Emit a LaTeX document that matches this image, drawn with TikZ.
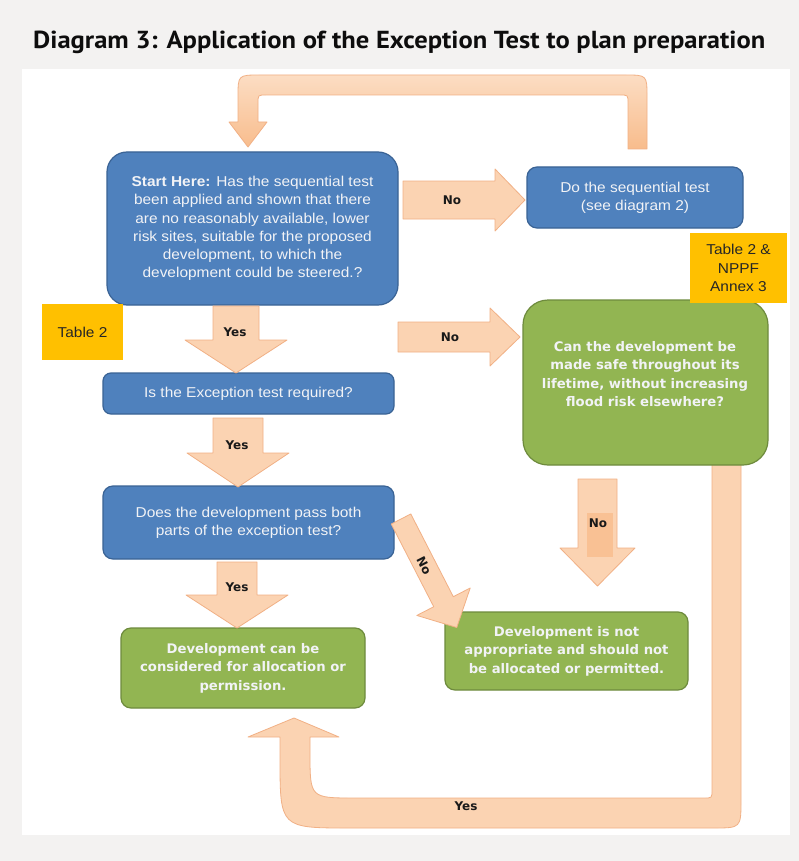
\documentclass[tikz,border=0pt]{standalone}
\usepackage{fontspec}
\setmainfont{Liberation Sans}
\newfontfamily\boxfont[FakeStretch=1.08]{Liberation Sans}
\newfontfamily\greenfont{DejaVu Sans}
\newfontfamily\titlefont{PT Sans}
\definecolor{bggray}{HTML}{F3F2F1}
\definecolor{bluefill}{HTML}{4F81BD}
\definecolor{blueline}{HTML}{3A6395}
\definecolor{greenfill}{HTML}{92B552}
\definecolor{greenline}{HTML}{6E8B3D}
\definecolor{yellowfill}{HTML}{FFC000}
\definecolor{peach}{HTML}{FBD3B2}
\definecolor{peachline}{HTML}{F1B085}
\definecolor{peachdark}{HTML}{F8BC8C}
\definecolor{peachlight}{HTML}{FCDDC3}
\definecolor{boxtext}{HTML}{F2F3F6}
\tikzset{
  bluebox/.style={draw=blueline, line width=1.2pt, fill=bluefill, text=boxtext, inner sep=0pt,
    align=center, font={\boxfont\fontsize{14.3}{18.3}\selectfont}},
  greenbox/.style={draw=greenline, line width=1.2pt, fill=greenfill, text=boxtext, inner sep=0pt,
    align=center, font={\greenfont\bfseries\fontsize{13.2}{18.5}\selectfont}},
  yellowbox/.style={fill=yellowfill, text=black!85, inner sep=0pt, align=center,
    font={\boxfont\fontsize{14.3}{18.5}\selectfont}},
  blk/.style={fill=peach, draw=peachline, line width=0.8pt, line join=round},
  blkgrad/.style={top color=peachlight, bottom color=peachdark, draw=peachline, line width=0.8pt, line join=round},
  lbl/.style={font={\greenfont\bfseries\fontsize{12}{14}\selectfont}, text=black!90, inner sep=1pt},
}
\begin{document}
\begin{tikzpicture}[x=1pt,y=-1pt]
\useasboundingbox (0,0) rectangle (799,861);
\fill[bggray] (0,0) rectangle (799,861);
\fill[white] (22,69) rectangle (790,835);

\node[anchor=base west, inner sep=0pt, text=black!95] (title) at (33,49)
  {\resizebox{732pt}{17.5pt}{\titlefont\bfseries Diagram 3: Application of the Exception Test to plan preparation}};

% loops
\path[blkgrad] (628,149) -- (628,103) .. controls (628,95) .. (620,95) -- (266,95)
  .. controls (258,95) .. (258,103) -- (258,122) -- (267,122) -- (248,147) -- (229,122)
  -- (238,122) -- (238,97) .. controls (238,75) .. (260,75) -- (625,75)
  .. controls (647,75) .. (647,97) -- (647,149) -- cycle;
\path[blk] (712,455) -- (712,790) .. controls (712,798) .. (704,798) -- (355,798)
  .. controls (310,798) .. (310,753) -- (310,737) -- (339,737) -- (294,718) -- (248,737)
  -- (280,737) -- (280,758) .. controls (280,828) .. (350,828) -- (713,828)
  .. controls (741,828) .. (741,800) -- (741,455) -- cycle;

% boxes
\node[bluebox, minimum width=291pt, minimum height=153pt, rounded corners=20pt] (start) at (252.5,228.5)
  {\textbf{Start Here:} Has the sequential test\\been applied and shown that there\\are no reasonably available, lower\\risk sites, suitable for the proposed\\development, to which the\\development could be steered.?};
\node[bluebox, minimum width=216pt, minimum height=61pt, rounded corners=10pt] (seq) at (635,197.5)
  {Do the sequential test\\(see diagram 2)};
\node[bluebox, minimum width=291pt, minimum height=41pt, rounded corners=8pt] (exc) at (248.5,393.5)
  {Is the Exception test required?};
\node[bluebox, minimum width=291pt, minimum height=73pt, rounded corners=10pt] (pass) at (248.5,522.5)
  {Does the development pass both\\parts of the exception test?};
\node[greenbox, minimum width=245pt, minimum height=165pt, rounded corners=25pt] (safe) at (645.5,382.5) {};
\node[greenbox, draw=none, fill=none] (safetext) at (645,374)
  {Can the development be\\made safe throughout its\\lifetime, without increasing\\flood risk elsewhere?};
\node[greenbox, minimum width=244pt, minimum height=80pt, rounded corners=10pt] (ok) at (243,668)
  {Development can be\\considered for allocation or\\permission.};
\node[greenbox, minimum width=243pt, minimum height=78pt, rounded corners=10pt] (notok) at (566.5,651)
  {Development is not\\appropriate and should not\\be allocated or permitted.};
\node[yellowbox, minimum width=81pt, minimum height=56pt] (t2) at (82.5,332) {Table 2};
\node[yellowbox, minimum width=97pt, minimum height=70pt] (t2n) at (738.5,268) {Table 2 \&\\NPPF\\Annex 3};

% block arrows
\path[blk] (403,181) -- (495,181) -- (495,169) -- (525,200) -- (495,231) -- (495,219) -- (403,219) -- cycle;
\path[blk] (398,322) -- (490,322) -- (490,308) -- (520,337) -- (490,366) -- (490,352) -- (398,352) -- cycle;
\path[blk] (213,306) -- (259,306) -- (259,340) -- (287,340) -- (236,373) -- (185,340) -- (213,340) -- cycle;
\path[blk] (213,418) -- (263,418) -- (263,453) -- (289,453) -- (238,487) -- (187,453) -- (213,453) -- cycle;
\path[blk] (217,562) -- (257,562) -- (257,595) -- (288,595) -- (237,628) -- (186,595) -- (217,595) -- cycle;
\path[blk] (578,479) -- (617,479) -- (617,548) -- (635,548) -- (597.5,586) -- (560,548) -- (578,548) -- cycle;
\fill[peachdark!80!peach] (587,513) rectangle (613,557);
\begin{scope}[shift={(401,519)}, rotate=-62.8]
\path[blk] (0,-11) -- (93,-11) -- (93,-30) -- (122,0) -- (93,30) -- (93,11) -- (0,11) -- cycle;
\end{scope}

% labels
\node[lbl] (l1) at (452,200) {No};
\node[lbl] (l2) at (450,337) {No};
\node[lbl] (l3) at (235,332) {Yes};
\node[lbl] (l4) at (237,445) {Yes};
\node[lbl] (l5) at (237,587) {Yes};
\node[lbl] (l6) at (598,523) {No};
\node[lbl, rotate=-62.8] (l7) at (424,566) {No};
\node[lbl] (l8) at (466,806) {Yes};
\end{tikzpicture}
\end{document}
